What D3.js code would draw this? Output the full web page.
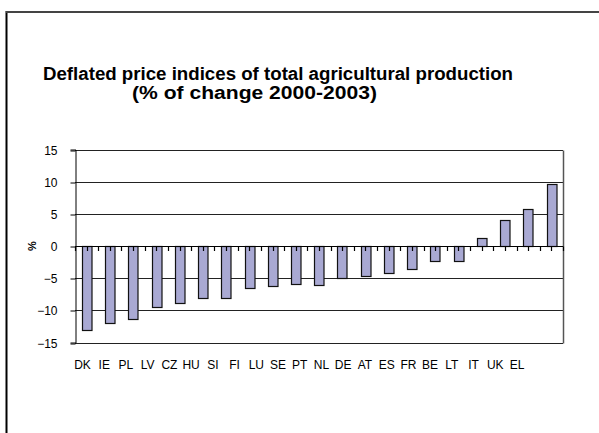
<!DOCTYPE html>
<html>
<head>
<meta charset="utf-8">
<script src="https://cdn.jsdelivr.net/npm/d3@7"></script>
<style>
  body { margin: 0; background: #fff; }
  text { font-family: Arial, "Liberation Sans", sans-serif; }
</style>
</head>
<body>
<script>
// country codes, sorted as in the source chart
const countries = ["DK", "IE", "PL", "LV", "CZ", "HU", "SI", "FI", "LU", "SE", "PT",
                   "NL", "DE", "AT", "ES", "FR", "BE", "LT", "IT", "UK", "EL"];
// % change of deflated price index 2000-2003
const change = [-13.1, -11.9, -11.3, -9.5, -8.9, -8.1, -8.1, -6.5, -6.2, -5.9, -6.0,
                -5.0, -4.7, -4.2, -3.6, -2.3, -2.3, 1.2, 4.0, 5.8, 9.7];
const yTicks = [-15, -10, -5, 0, 5, 10, 15];

const data = countries.map((c, i) => ({ country: c, value: change[i] }));

const W = 599, H = 433;
const svg = d3.select("body").append("svg").attr("width", W).attr("height", H);

// outer chart frame (runs off the right and bottom of the picture)
svg.append("line").attr("x1", 6.5).attr("x2", 6.5).attr("y1", 11).attr("y2", H)
    .attr("stroke", "#000").attr("stroke-width", 2);
svg.append("line").attr("x1", 6).attr("x2", W).attr("y1", 12).attr("y2", 12)
    .attr("stroke", "#444").attr("stroke-width", 2);

// title, stretched to the widths seen in the source
svg.append("text").attr("x", 43).attr("y", 80)
    .attr("font-size", 17.5).attr("font-weight", "bold")
    .attr("textLength", 470).attr("lengthAdjust", "spacingAndGlyphs")
    .text("Deflated price indices of total agricultural production");
svg.append("text").attr("x", 132).attr("y", 99)
    .attr("font-size", 17.5).attr("font-weight", "bold")
    .attr("textLength", 245).attr("lengthAdjust", "spacingAndGlyphs")
    .text("(% of change 2000-2003)");

const plotLeft = 75, plotRight = 563, plotTop = 149.5, plotBottom = 342.5;

const x = d3.scaleBand().domain(countries).range([plotLeft, plotRight]).paddingInner(0).paddingOuter(0);
const y = d3.scaleLinear().domain([-15, 15]).range([plotBottom, plotTop]);

// gridlines
svg.append("g").selectAll("line").data(yTicks).enter().append("line")
    .attr("x1", plotLeft).attr("x2", plotRight)
    .attr("y1", d => Math.round(y(d)) + 0.5).attr("y2", d => Math.round(y(d)) + 0.5)
    .attr("stroke", "#222").attr("stroke-width", 1);

// right border of plot area
svg.append("line").attr("x1", plotRight + 0.5).attr("x2", plotRight + 0.5)
    .attr("y1", Math.round(y(15)) + 0.5).attr("y2", Math.round(y(-15)) + 0.5)
    .attr("stroke", "#555").attr("stroke-width", 1.5);

// y axis
const yAxis = svg.append("g").attr("transform", `translate(${plotLeft + 0.5},0)`)
    .call(d3.axisLeft(y).tickValues(yTicks).tickSize(5).tickPadding(13));
yAxis.selectAll("text").attr("font-size", 12).attr("fill", "#000")
    .attr("font-family", "Arial, 'Liberation Sans', sans-serif");
yAxis.select(".domain").attr("stroke", "#000");
yAxis.selectAll(".tick line").attr("stroke", "#000")
    .attr("transform", d => `translate(0,${Math.round(y(d)) + 0.5 - y(d)})`);
yAxis.selectAll(".tick text")
    .attr("transform", d => `translate(0,${Math.round(y(d)) + 0.5 - y(d)})`);

// y label
svg.append("text").attr("transform", `translate(36,${y(0)}) rotate(-90)`)
    .attr("text-anchor", "middle").attr("font-size", 11).attr("font-weight", "bold")
    .text("%");

// bars
const barW = 9.5;
svg.append("g").selectAll("rect").data(data).enter().append("rect")
    .attr("x", d => Math.round(x(d.country) + x.bandwidth() / 2 - barW / 2) + 0.5)
    .attr("y", d => Math.round(y(Math.max(0, d.value))) + 0.5)
    .attr("width", barW)
    .attr("height", d => Math.round(Math.abs(y(d.value) - y(0))))
    .attr("fill", "#a9a9d3")
    .attr("stroke", "#111").attr("stroke-width", 1.2);

// category axis on the zero line: ticks at band edges and centres
const y0 = Math.round(y(0)) + 0.5;
const tickXs = [];
countries.forEach(c => { tickXs.push(x(c)); tickXs.push(x(c) + x.bandwidth() / 2); });
tickXs.push(plotRight);
svg.append("line").attr("x1", plotLeft).attr("x2", plotRight).attr("y1", y0).attr("y2", y0)
    .attr("stroke", "#000");
svg.append("g").selectAll("line").data(tickXs).enter().append("line")
    .attr("x1", d => Math.round(d) + 0.5).attr("x2", d => Math.round(d) + 0.5)
    .attr("y1", y0).attr("y2", y0 + 4.5)
    .attr("stroke", "#000").attr("stroke-width", 1.2);

// category labels (set closer together than the bars in the source)
const xl = d3.scalePoint().domain(countries).range([82.5, 517]);
svg.append("g").selectAll("text").data(countries).enter().append("text")
    .attr("x", d => xl(d)).attr("y", 369)
    .attr("text-anchor", "middle").attr("font-size", 12)
    .text(d => d);
</script>
</body>
</html>
